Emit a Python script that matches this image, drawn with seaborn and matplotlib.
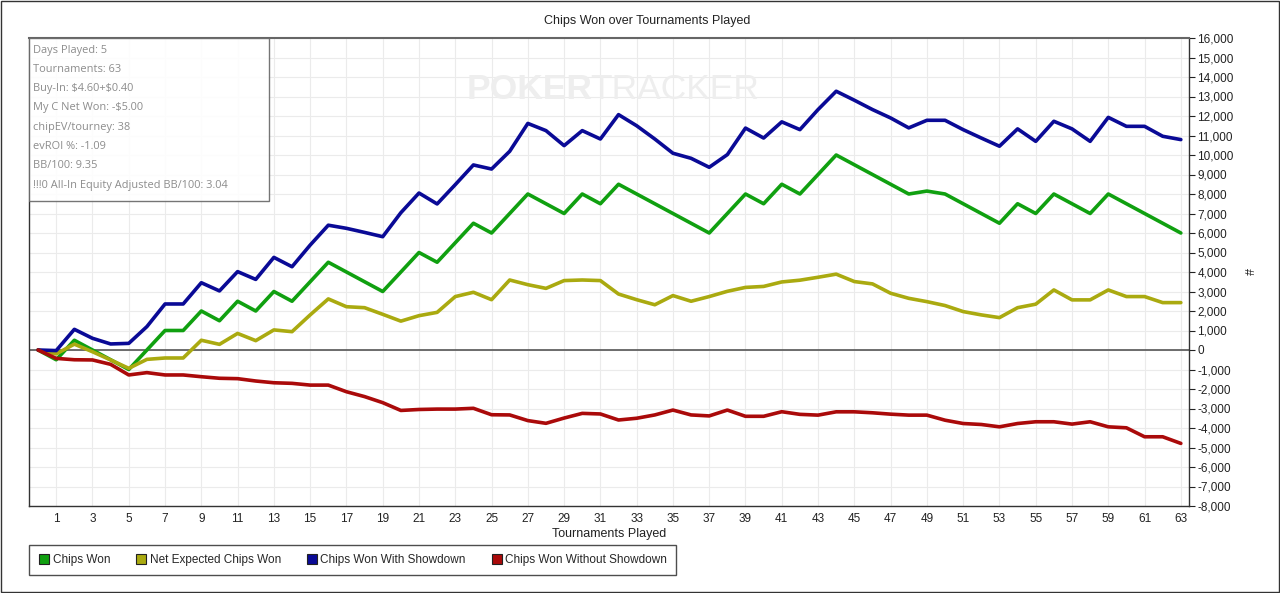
import matplotlib
matplotlib.use("Agg")
import matplotlib.pyplot as plt
import seaborn as sns
import pandas as pd
from matplotlib.patches import Rectangle
from matplotlib.ticker import FuncFormatter, MultipleLocator

# Tournament index 0..63
tournaments = list(range(64))

chips_won = [0, -500, 500, 0, -500, -1000, 0, 1000, 1000, 2000, 1500, 2500, 2000, 3000, 2500, 3500,
             4500, 4000, 3500, 3000, 4000, 5000, 4500, 5500, 6500, 6000, 7000, 8000, 7500, 7000, 8000, 7500,
             8500, 8000, 7500, 7000, 6500, 6000, 7000, 8000, 7500, 8500, 8000, 9000, 10000, 9500, 9000, 8500,
             8000, 8150, 8000, 7500, 7000, 6500, 7500, 7000, 8000, 7500, 7000, 8000, 7500, 7000, 6500, 6000]

net_expected = [0, -200, 300, -90, -510, -940, -480, -410, -410, 500, 290, 850, 480, 1030, 940, 1800,
                2620, 2220, 2170, 1830, 1480, 1760, 1930, 2740, 2960, 2580, 3590, 3350, 3160, 3560, 3590, 3560,
                2870, 2580, 2320, 2790, 2500, 2740, 3010, 3210, 3260, 3490, 3580, 3730, 3890, 3510, 3390, 2910,
                2650, 2480, 2280, 1970, 1800, 1660, 2170, 2350, 3080, 2570, 2570, 3080, 2740, 2740, 2430, 2430]

with_showdown = [0, -30, 1060, 600, 310, 340, 1200, 2360, 2360, 3450, 3030, 4020, 3620, 4750, 4270, 5380,
                 6400, 6240, 6030, 5810, 7040, 8050, 7490, 8480, 9490, 9280, 10190, 11620, 11250, 10480, 11250, 10820,
                 12070, 11500, 10820, 10090, 9830, 9370, 10020, 11380, 10870, 11700, 11300, 12330, 13270, 12810, 12330, 11900,
                 11390, 11780, 11780, 11300, 10870, 10450, 11340, 10700, 11730, 11340, 10700, 11930, 11470, 11470, 10960, 10790]

without_showdown = [0, -430, -500, -510, -735, -1280, -1160, -1280, -1280, -1370, -1450, -1470, -1590, -1680, -1710, -1800,
                    -1800, -2140, -2390, -2700, -3100, -3050, -3030, -3030, -2990, -3320, -3330, -3620, -3760, -3490, -3250, -3280,
                    -3590, -3500, -3330, -3080, -3330, -3380, -3080, -3400, -3400, -3165, -3300, -3340, -3170, -3170, -3220, -3290,
                    -3340, -3340, -3600, -3770, -3820, -3940, -3770, -3680, -3680, -3800, -3680, -3940, -3990, -4450, -4450, -4790]

series_names = ["Chips Won", "Net Expected Chips Won", "Chips Won With Showdown", "Chips Won Without Showdown"]
series_colors = ["#10a010", "#aaaa10", "#0a0a96", "#aa0a0a"]

info_lines = ["Days Played: 5", "Tournaments: 63", "Buy-In: $4.60+$0.40", "My C Net Won: -$5.00",
              "chipEV/tourney: 38", "evROI %: -1.09", "BB/100: 9.35", "!!!0 All-In Equity Adjusted BB/100: 3.04"]

df = pd.DataFrame({"t": tournaments, series_names[0]: chips_won, series_names[1]: net_expected,
                   series_names[2]: with_showdown, series_names[3]: without_showdown})
long = df.melt(id_vars="t", var_name="series", value_name="chips")

sns.set_theme(style="white")
plt.rcParams["font.family"] = ["Liberation Sans", "DejaVu Sans"]

W, H = 1280, 593
fig = plt.figure(figsize=(W / 100, H / 100), dpi=100)
ax = fig.add_axes([29 / W, 1 - 506 / H, (1189 - 29) / W, (506 - 38) / H])

# grid
for x in range(1, 64, 2):
    ax.axvline(x, color="#ebebeb", lw=0.8, zorder=0)
for y in range(-8000, 16001, 1000):
    ax.axhline(y, color="#ebebeb", lw=0.8, zorder=0)
ax.axhline(0, color="#555555", lw=1.2, zorder=1)

# watermark
ax.text(0.377, 0.89, "POKER", transform=ax.transAxes, fontsize=25.5, fontweight="bold",
        color="#eeeeee", ha="left", va="center", zorder=0.5)
ax.text(0.484, 0.89, "TRACKER", transform=ax.transAxes, fontsize=25.5,
        color="#eeeeee", ha="left", va="center", zorder=0.5)

sns.lineplot(data=long, x="t", y="chips", hue="series", hue_order=series_names,
             palette=series_colors, linewidth=2.6, ax=ax, legend=False, zorder=3)

ax.set_xlim(-0.5, 63.45)
ax.set_ylim(-8000, 16000)
ax.set_xticks(range(1, 64, 2))
ax.yaxis.set_major_locator(MultipleLocator(1000))
ax.yaxis.set_major_formatter(FuncFormatter(lambda v, p: f"{int(v):,}"))
ax.yaxis.tick_right()
ax.yaxis.set_label_position("right")
ax.tick_params(axis="both", labelsize=8.5, colors="#222222", length=4, width=0.8, direction="out")
ax.tick_params(axis="x", pad=2, length=3)
ax.tick_params(axis="y", pad=2)
ax.set_xlabel("Tournaments Played", fontsize=9, color="#222222", labelpad=2)
ax.set_ylabel("#", fontsize=9, color="#222222", rotation=270, labelpad=14)
for name in ["left", "right", "bottom"]:
    ax.spines[name].set_visible(True)
    ax.spines[name].set_color("#333333")
    ax.spines[name].set_linewidth(1.0)
ax.spines["top"].set_color("#666666")
ax.spines["top"].set_linewidth(1.5)

# info box in the top left corner
ax.add_patch(Rectangle((0, 1 - (201 - 38) / 468), (269 - 29) / 1160, (201 - 38) / 468,
                       transform=ax.transAxes, facecolor="white", edgecolor="#666666",
                       lw=1.0, alpha=0.9, zorder=4))
for k, line in enumerate(info_lines):
    fig.text(33 / W, 1 - (50 + k * 19.3) / H, line, fontsize=7.9, color="#8c8c8c",
             family=["Open Sans", "DejaVu Sans"], ha="left", va="center", zorder=5,
             parse_math=False)

fig.text(647 / W, 1 - 21 / H, "Chips Won over Tournaments Played", fontsize=9,
         color="#222222", ha="center", va="center")

# legend below the chart
handles = [plt.Line2D([], [], marker="s", ls="", markersize=6.5, markerfacecolor=c,
                      markeredgecolor="#222222", markeredgewidth=0.8) for c in series_colors]
leg = fig.legend(handles, series_names, loc="lower left", bbox_to_anchor=(29 / W, 1 - 575 / H),
                 ncol=4, fontsize=8.5, frameon=True, fancybox=False, edgecolor="#222222",
                 handletextpad=0.25, columnspacing=2.1, borderpad=0.75, handlelength=1.0,
                 borderaxespad=0)
leg.get_frame().set_linewidth(1.0)

# outer frame of the image
fig.add_artist(Rectangle((0.5 / W, 1.5 / H), 1 - 2 / W, 1 - 2.5 / H, transform=fig.transFigure,
                         fill=False, edgecolor="#333333", lw=1.0))

fig.savefig("out.png", dpi=100, facecolor="white")
